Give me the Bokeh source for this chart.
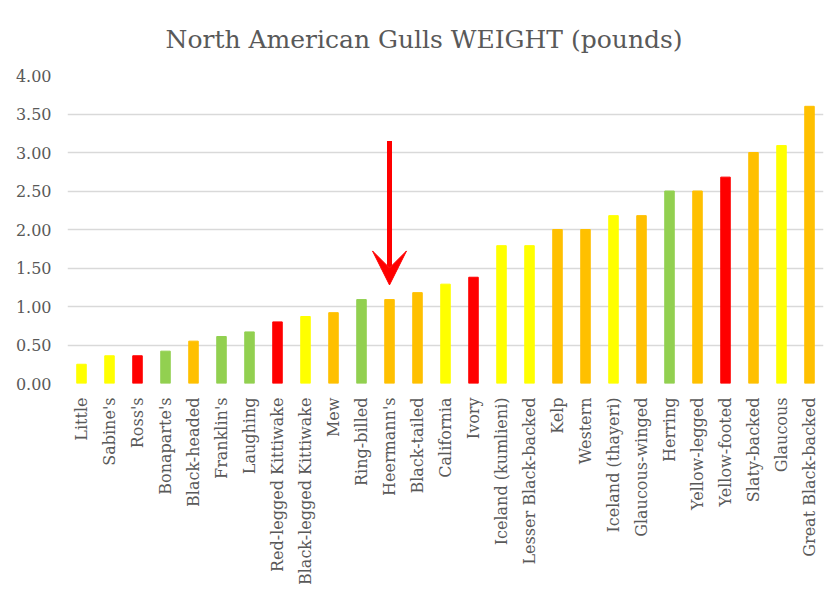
import math
from bokeh.plotting import figure
from bokeh.models import (ColumnDataSource, FactorRange, Range1d, FixedTicker,
                          NumeralTickFormatter, Arrow, VeeHead)
from bokeh.embed import file_html
from bokeh.resources import INLINE

categories = ["Little", "Sabine's", "Ross's", "Bonaparte's", "Black-headed",
              "Franklin's", "Laughing", "Red-legged Kittiwake",
              "Black-legged Kittiwake", "Mew", "Ring-billed", "Heermann's",
              "Black-tailed", "California", "Ivory", "Iceland (kumlieni)",
              "Lesser Black-backed", "Kelp", "Western", "Iceland (thayeri)",
              "Glaucous-winged", "Herring", "Yellow-legged", "Yellow-footed",
              "Slaty-backed", "Glaucous", "Great Black-backed"]
weights = [0.25, 0.36, 0.36, 0.42, 0.55, 0.61, 0.67, 0.80, 0.87, 0.92, 1.09,
           1.09, 1.18, 1.29, 1.38, 1.79, 1.79, 2.00, 2.00, 2.18, 2.18, 2.50,
           2.50, 2.68, 3.00, 3.09, 3.60]
status = ["Y", "Y", "R", "G", "O", "G", "G", "R", "Y", "O", "G", "O", "O",
          "Y", "R", "Y", "Y", "O", "O", "Y", "O", "G", "O", "R", "O", "Y", "O"]
palette = {"Y": "#FFFF00", "O": "#FFC000", "R": "#FF0000", "G": "#92D050"}
y_ticks = [0, 0.5, 1, 1.5, 2, 2.5, 3, 3.5, 4]
arrow_target = "Heermann's"
arrow_from, arrow_to = 3.15, 1.28

FONT = "DejaVu Serif"
GREY = "#595959"

src = ColumnDataSource(dict(cat=categories, w=weights,
                            color=[palette[s] for s in status]))

p = figure(width=824, height=590, x_range=FactorRange(*categories, range_padding=0),
           y_range=Range1d(0, 4), output_backend="svg", toolbar_location=None,
           min_border_left=67, min_border_right=1, min_border_top=74,
           min_border_bottom=207, title="North American Gulls WEIGHT (pounds)")
p.outline_line_color = None
p.title.align = "left"
p.title.text_font = FONT
p.title.text_font_style = "normal"
p.title.text_font_size = "25px"
p.title.text_color = GREY
p.title.offset = 98
p.title.standoff = 44

p.vbar(x="cat", top="w", width=0.34, color="color", source=src)

p.yaxis.ticker = FixedTicker(ticks=y_ticks)
p.yaxis.formatter = NumeralTickFormatter(format="0.00")
p.ygrid.ticker = FixedTicker(ticks=y_ticks)
p.ygrid.grid_line_color = "#D9D9D9"
p.ygrid.grid_line_width = 1.5
p.xgrid.grid_line_color = None
for ax in (p.xaxis, p.yaxis):
    ax.axis_line_color = None
    ax.major_tick_line_color = None
    ax.minor_tick_line_color = None
    ax.major_label_text_font = FONT
    ax.major_label_text_color = GREY
    ax.major_label_text_font_size = "16px"
p.yaxis.major_label_standoff = 10
p.xaxis.major_label_orientation = math.pi / 2
p.xaxis.major_label_standoff = 8

xi = categories.index(arrow_target) + 0.5
p.add_layout(Arrow(x_start=xi, y_start=arrow_from, x_end=xi, y_end=arrow_to,
                   line_color="#FF0000", line_width=5,
                   end=VeeHead(size=34, fill_color="#FF0000", line_color="#FF0000")))

open("out.html", "w").write(file_html(p, INLINE))
